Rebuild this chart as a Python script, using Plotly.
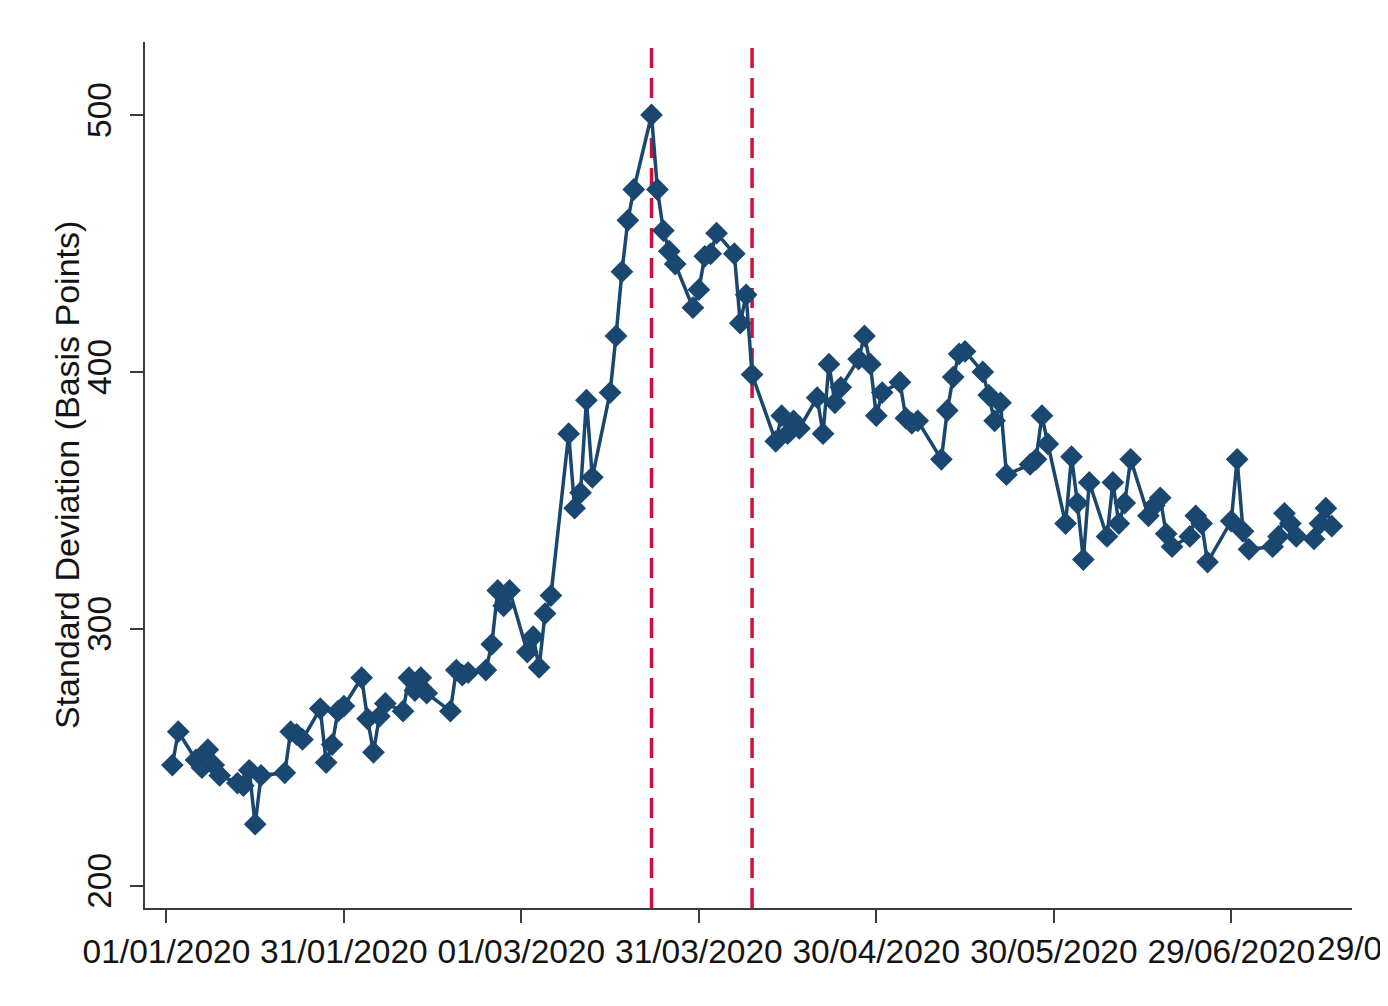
import plotly.graph_objects as go

# ---- data ----
dates = [
    "2020-01-02", "2020-01-03", "2020-01-06", "2020-01-07", "2020-01-08", "2020-01-09", "2020-01-10",
    "2020-01-13", "2020-01-14", "2020-01-15", "2020-01-16", "2020-01-17", "2020-01-21", "2020-01-22",
    "2020-01-23", "2020-01-24", "2020-01-27", "2020-01-28", "2020-01-29", "2020-01-30", "2020-01-31",
    "2020-02-03", "2020-02-04", "2020-02-05", "2020-02-06", "2020-02-07", "2020-02-10", "2020-02-11",
    "2020-02-12", "2020-02-13", "2020-02-14", "2020-02-18", "2020-02-19", "2020-02-20", "2020-02-21",
    "2020-02-24", "2020-02-25", "2020-02-26", "2020-02-27", "2020-02-28",
    "2020-03-02", "2020-03-03", "2020-03-04", "2020-03-05", "2020-03-06", "2020-03-09", "2020-03-10",
    "2020-03-11", "2020-03-12", "2020-03-13", "2020-03-16", "2020-03-17", "2020-03-18", "2020-03-19",
    "2020-03-20", "2020-03-23", "2020-03-24", "2020-03-25", "2020-03-26", "2020-03-27", "2020-03-30",
    "2020-03-31", "2020-04-01", "2020-04-02", "2020-04-03", "2020-04-06", "2020-04-07", "2020-04-08",
    "2020-04-09", "2020-04-13", "2020-04-14", "2020-04-15", "2020-04-16", "2020-04-17", "2020-04-20",
    "2020-04-21", "2020-04-22", "2020-04-23", "2020-04-24", "2020-04-27", "2020-04-28", "2020-04-29",
    "2020-04-30", "2020-05-01", "2020-05-04", "2020-05-05", "2020-05-06", "2020-05-07", "2020-05-11",
    "2020-05-12", "2020-05-13", "2020-05-14", "2020-05-15", "2020-05-18", "2020-05-19", "2020-05-20",
    "2020-05-21", "2020-05-22", "2020-05-26", "2020-05-27", "2020-05-28", "2020-05-29",
    "2020-06-01", "2020-06-02", "2020-06-03", "2020-06-04", "2020-06-05", "2020-06-08", "2020-06-09",
    "2020-06-10", "2020-06-11", "2020-06-12", "2020-06-15", "2020-06-16", "2020-06-17", "2020-06-18",
    "2020-06-19", "2020-06-22", "2020-06-23", "2020-06-24", "2020-06-25", "2020-06-29", "2020-06-30",
    "2020-07-01", "2020-07-02", "2020-07-06", "2020-07-07", "2020-07-08", "2020-07-09", "2020-07-10",
    "2020-07-13", "2020-07-14", "2020-07-15", "2020-07-16",
]
std_dev = [
    247, 260, 249, 246, 253, 247, 243,
    240, 239, 245, 224, 243, 244, 260,
    259, 257, 269, 248, 255, 268, 270,
    281, 265, 252, 266, 271, 268, 281,
    276, 281, 275, 268, 284, 282, 283,
    284, 294, 315, 309, 315,
    291, 297, 285, 306, 313, 376, 347,
    353, 389, 359, 392, 414, 439, 459,
    471, 500, 471, 455, 447, 442, 425,
    432, 445, 446, 454, 446, 419, 430,
    399, 373, 383, 376, 381, 378, 390,
    376, 403, 388, 394, 405, 414, 403,
    383, 392, 396, 382, 380, 381, 366,
    385, 398, 407, 408, 400, 391, 381,
    388, 360, 364, 366, 383, 372,
    341, 367, 349, 327, 357, 336, 357,
    341, 349, 366, 344, 348, 351, 337,
    332, 336, 344, 341, 326, 342, 366,
    338, 331, 332, 336, 345, 341, 336,
    335, 341, 347, 340,
]
event_dates = ["2020-03-23", "2020-04-09"]
x_tick_vals = ["2020-01-01", "2020-01-31", "2020-03-01", "2020-03-31", "2020-04-30", "2020-05-30", "2020-06-29"]
x_tick_text = ["01/01/2020", "31/01/2020", "01/03/2020", "31/03/2020", "30/04/2020", "30/05/2020", "29/06/2020"]
extra_tick_text = "29/07/2020"
y_tick_vals = [200, 300, 400, 500]

NAVY = "rgb(26,71,111)"
RED = "rgb(206,16,58)"
FONT = "Liberation Sans, Arial, sans-serif"
AXIS = "rgb(60,60,60)"
TXT = "rgb(20,20,20)"

# page body adds an 8px offset; margins compensate
L, R, T, B = 137, 44, 34, 106
W, H = 1388, 1006
plot_w = W - L - R
plot_h = H - T - B

fig = go.Figure()
fig.add_trace(go.Scatter(
    x=dates, y=std_dev, mode="lines+markers",
    line=dict(color=NAVY, width=3.5),
    marker=dict(symbol="diamond", size=17.5, color=NAVY, line=dict(width=0)),
    showlegend=False,
))

for d in event_dates:
    fig.add_shape(type="line", xref="x", yref="paper", x0=d, x1=d, y0=0, y1=1,
                  line=dict(color=RED, width=3.5, dash="20px,10px"), layer="below")

fig.update_layout(
    width=W, height=H,
    margin=dict(l=L, r=R, t=T, b=B),
    paper_bgcolor="white", plot_bgcolor="white",
    font=dict(family=FONT, color=TXT),
    xaxis=dict(
        type="date",
        range=["2019-12-28 09:00", "2020-07-19 10:00"],
        tickmode="array", tickvals=x_tick_vals, ticktext=x_tick_text,
        tickangle=0, ticks="outside", ticklen=13, tickwidth=2, tickcolor=AXIS,
        showline=True, linecolor=AXIS, linewidth=2,
        showgrid=False, zeroline=False,
        tickfont=dict(size=33.5, family=FONT, color=TXT),
    ),
    yaxis=dict(
        range=[191.4, 528.4],
        tickmode="array", tickvals=y_tick_vals,
        tickangle=-90, ticks="outside", ticklen=13, tickwidth=2, tickcolor=AXIS,
        ticklabelstandoff=6,
        showline=True, linecolor=AXIS, linewidth=2,
        showgrid=False, zeroline=False,
        tickfont=dict(size=33.5, family=FONT, color=TXT),
    ),
)

fig.add_annotation(
    text="Standard Deviation (Basis Points)", textangle=-90,
    xref="paper", yref="paper", x=(59 - L) / plot_w, y=0.5,
    xanchor="center", yanchor="middle", showarrow=False,
    font=dict(size=34, family=FONT, color=TXT),
)
# tick label of the last (off-canvas) tick, 30 days after 29/06/2020
px_per_day = 5.917
tick_px = (166.3 - 16) + 210 * px_per_day
fig.add_annotation(
    text=extra_tick_text, xref="paper", yref="paper",
    x=(tick_px - L) / plot_w, y=-(940 - (H - B)) / plot_h,
    xanchor="center", yanchor="middle", showarrow=False,
    font=dict(size=33.5, family=FONT, color=TXT),
)

fig.write_html("out.html")
